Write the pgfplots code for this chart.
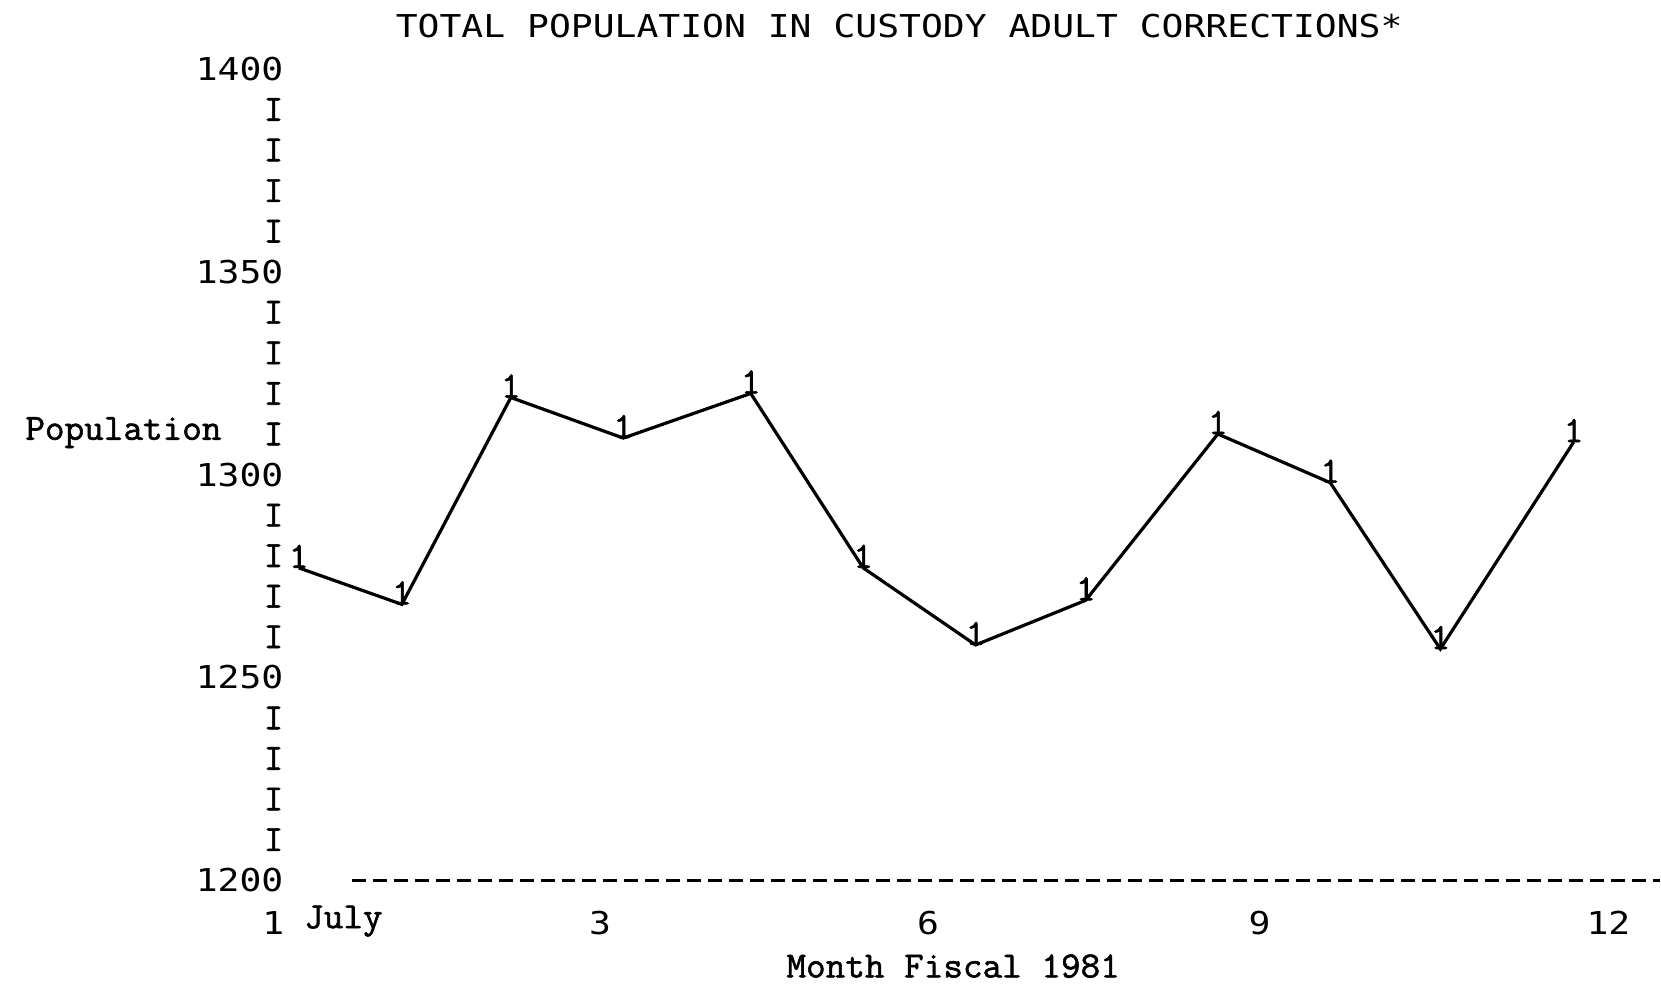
\documentclass[border=0pt]{standalone}
\usepackage{fontspec}
\usepackage{pgfplots}
\pgfplotsset{compat=1.18}
\newfontfamily\dotfont[FakeStretch=1.155]{DejaVu Sans Mono}
\newfontfamily\typefont[FakeStretch=1.03,FakeBold=1.5]{Latin Modern Mono}
\newcommand\dotsz{\fontsize{15.75}{16}\dotfont}
\newcommand\typesz{\fontsize{18.5}{19}\typefont}
\newcommand\II{{\typesz I}}
\begin{document}
\begin{tikzpicture}
\path (-132.5pt,-55pt) rectangle (698pt,440.5pt);
\begin{axis}[
  at={(0pt,0pt)}, anchor=south west,
  scale only axis, width=698pt, height=406pt,
  xmin=0.7069, xmax=12.741, ymin=1200, ymax=1400,
  axis line style={draw=none}, major tick length=0pt,
  clip=false,
  ytick={1200,1210,...,1400},
  yticklabels={1200,\II,\II,\II,\II,1250,\II,\II,\II,\II,1300,\II,\II,\II,\II,1350,\II,\II,\II,\II,1400},
  yticklabel style={anchor=east, inner sep=0pt, xshift=9.5pt, font=\dotsz},
  xtick={0.78,3.60,6.43,9.29,12.30},
  xticklabels={{\makebox[0pt][c]{1}\rlap{\hspace{15.5pt}\raisebox{3pt}{\typesz July}}},3,6,9,12},
  xticklabel style={anchor=base, inner sep=0pt, yshift=-27pt, font=\dotsz},
]
\addplot[black, line width=1.6pt, mark=none,
  nodes near coords={1},
  every node near coord/.append style={anchor=base, inner sep=0pt, font=\typesz}]
  coordinates {
  (1.00,1277) (1.89,1268) (2.83,1319) (3.80,1309) (4.90,1320) (5.87,1277)
  (6.84,1258) (7.79,1269) (8.93,1310) (9.90,1298) (10.85,1257) (12.00,1308)
  };
\draw[black, line width=1.5pt, dash pattern=on 7pt off 3.5pt]
  (axis cs:1.457,1200) -- (axis cs:12.741,1200);
\end{axis}
\node[font=\dotsz, anchor=center, inner sep=0pt] at (317.5pt,427.25pt) {TOTAL POPULATION IN CUSTODY ADULT CORRECTIONS*};
\node[font=\typesz, anchor=west, inner sep=0pt] at (-120pt,224pt) {Population};
\node[font=\typesz, anchor=center, inner sep=0pt] at (344.5pt,-43pt) {Month Fiscal 1981};
\end{tikzpicture}
\end{document}
